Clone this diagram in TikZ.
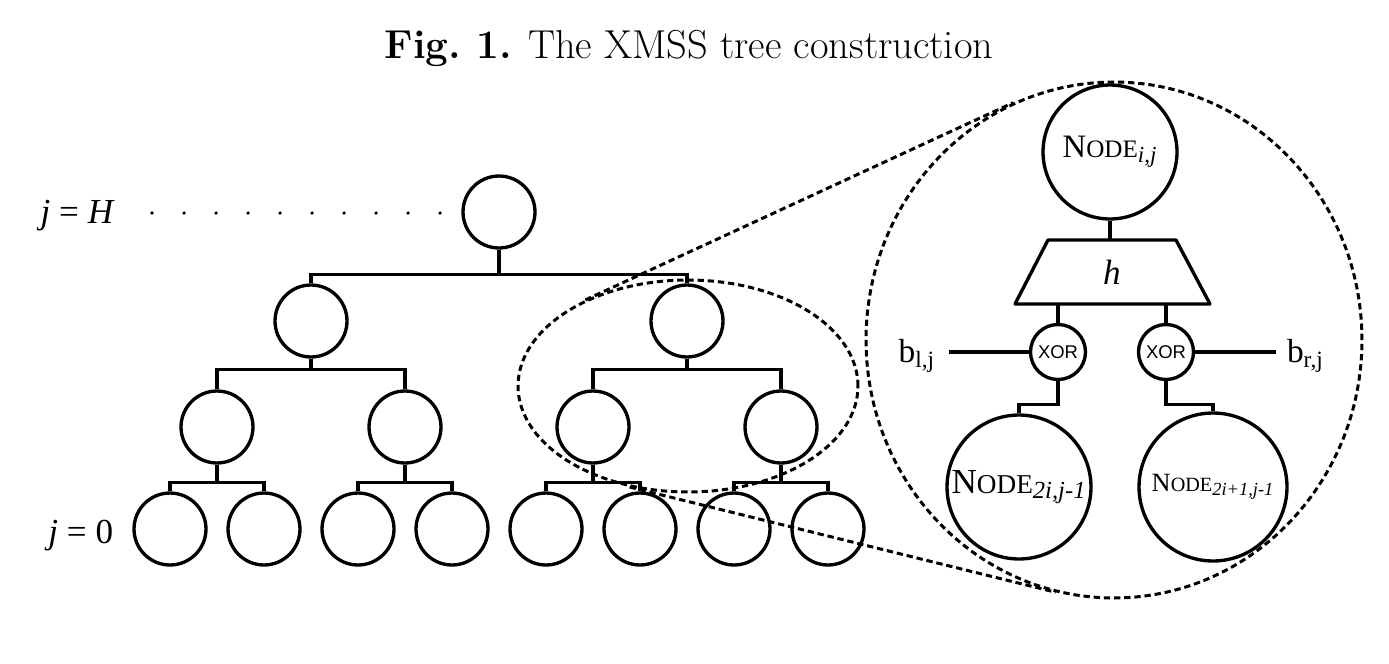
\documentclass[tikz,border=0pt]{standalone}
\usepackage{fontspec}
\newfontfamily\tms{Liberation Serif}
\newfontfamily\arl{Liberation Sans}
\usetikzlibrary{shapes.geometric, positioning}
\tikzset{
    tnode/.style={circle, draw, line width=1.9pt, minimum size=1.44cm, inner sep=0pt},
    xnode/.style={circle, draw, line width=1.9pt, minimum size=1.1cm, inner sep=0pt,
        font=\arl\fontsize{10.5}{10.5}\selectfont},
    wire/.style={line width=1.9pt},
    zoomline/.style={dash pattern=on 3.6pt off 2.2pt, line width=1.7pt},
    lab/.style={font=\tms\fontsize{19}{19}\selectfont, outer sep=0pt}
}
% N + kleine Kapitaelchen + Index
\newcommand{\nodetxt}[2]{N{\fontsize{#1}{#1}\selectfont ODE}\textsubscript{\itshape #2}}

\begin{document}
\begin{tikzpicture}[x=0.02cm, y=-0.02cm]
\useasboundingbox (0,0) rectangle (1389,663);

% Titel
\node[anchor=base, font=\fontsize{23}{23}\selectfont] (title) at (689,58)
    {\textbf{Fig.~1.} The XMSS tree construction};

% Baum
\node[tnode] (r) at (499,212) {};
\foreach \k in {0,1}
    \node[tnode] (a\k) at ({311+376*\k},321) {};
\foreach \k in {0,...,3}
    \node[tnode] (b\k) at ({217+188*\k},427) {};
\foreach \k in {0,...,7}
    \node[tnode] (c\k) at ({170+94*\k},529) {};

% Kanten
\foreach \k in {0,1}
    \draw[wire] (r.south) -- ++(0,25) -| (a\k.north);
\foreach \k/\p in {0/0,1/0,2/1,3/1}
    \draw[wire] (a\p.south) -- ++(0,11) -| (b\k.north);
\foreach \k/\p in {0/0,1/0,2/1,3/1,4/2,5/2,6/3,7/3}
    \draw[wire] (b\p.south) -- ++(0,18) -| (c\k.north);

% Hoehen
\node[lab, font=\tms\fontsize{20}{20}\selectfont, anchor=base east] (jH) at (119,223)
    {{\itshape j} = {\itshape H}};
\node[lab, font=\tms\fontsize{20}{20}\selectfont, anchor=base east] (j0) at (119,543)
    {{\itshape j} = 0};
\foreach \k in {0,...,9}
    \fill ({152+32*\k},213) circle (1pt);

% Lupe
\node[draw, ellipse, zoomline, minimum width=6.8cm, minimum height=4.24cm, inner sep=0pt] (zs) at (688,386) {};
\node[draw, ellipse, zoomline, minimum width=9.92cm, minimum height=10.32cm, inner sep=0pt] (zb) at (1114,340) {};
\draw[zoomline] (zs.140) -- (zb.113);
\draw[zoomline] (zs.240) -- (zb.257);

% Knoten im Detail
\node[tnode, minimum size=2.68cm, font=\tms\fontsize{18.6}{18.6}\selectfont] (top) at (1110,152)
    {\nodetxt{14.3}{i,j}};
\draw[wire, line join=round] (1048,240) -- (1176,240) -- (1210,304) -- (1015,304) -- cycle;
\node[font=\tms\fontsize{20}{20}\selectfont\itshape] (hash) at (1112,272) {h};
\coordinate (ht) at (1112,240);
\coordinate (hb) at (1112,304);
\draw[wire] (top.south) -- (top.south |- ht);

\node[xnode] (xl) at (1058,352) {XOR};
\node[xnode] (xr) at (1166,352) {XOR};
\draw[wire] (xl.north) -- (xl.north |- hb);
\draw[wire] (xr.north) -- (xr.north |- hb);

\node[lab, anchor=base east, inner xsep=0.28cm] (bl) at (949,362) {b\textsubscript{l,j}};
\node[lab, anchor=base west, inner xsep=0.22cm] (br) at (1276,362) {b\textsubscript{r,j}};
\draw[wire] (xl.west) -- (xl.west -| bl.east);
\draw[wire] (xr.east) -- (xr.east -| br.west);

\node[tnode, minimum size=2.88cm, font=\tms\fontsize{20}{20}\selectfont] (nl) at (1019,487)
    {\nodetxt{15.5}{2i,j-1}};
\node[tnode, minimum size=2.96cm, font=\tms\fontsize{15}{15}\selectfont] (nr) at (1213,487)
    {\nodetxt{11.5}{2i+1,j-1}};
\draw[wire] (xl.south) -- ++(0,23) -| (nl.north);
\draw[wire] (xr.south) -- ++(0,23) -| (nr.north);
\end{tikzpicture}
\end{document}
